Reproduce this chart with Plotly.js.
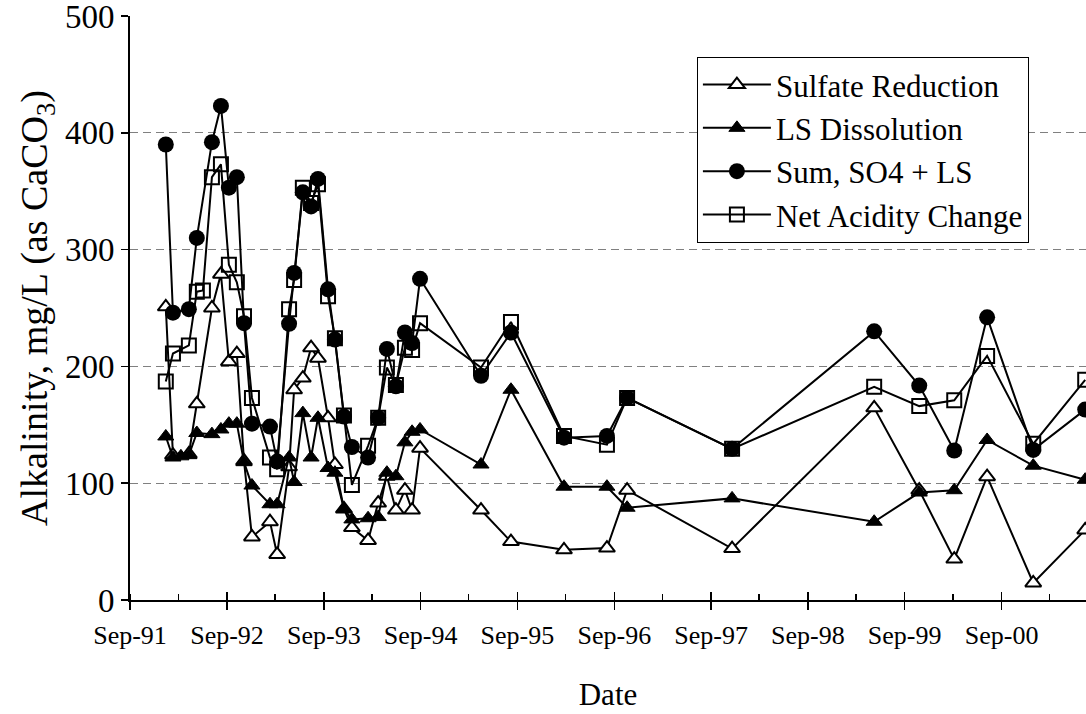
<!DOCTYPE html>
<html>
<head>
<meta charset="utf-8">
<script src="https://cdn.plot.ly/plotly-3.0.1.min.js"></script>
<style>html,body{margin:0;padding:0;background:#fff}#chart{width:1086px;height:714px}</style>
</head>
<body>
<div id="chart"></div>
<script>
// Sampling dates shared by Sulfate Reduction and Sum series
const sampleDates = ['1992-01-14','1992-02-10','1992-04-10','1992-05-10','1992-07-06','1992-08-09','1992-09-08','1992-10-08','1992-11-04','1992-12-04',
  '1993-02-10','1993-03-09','1993-04-23','1993-05-12','1993-06-14','1993-07-15','1993-08-10','1993-09-17','1993-10-13','1993-11-16',
  '1993-12-16','1994-02-15','1994-03-25','1994-04-27','1994-05-31','1994-07-04','1994-07-31','1994-08-30','1995-04-17','1995-08-08',
  '1996-02-24','1996-08-04','1996-10-19','1997-11-19','1999-05-09','1999-10-26','2000-03-06','2000-07-08','2000-12-29','2001-07-13'];

const sulfateReduction = [251,124,125,168,250,279,204,211,119,54,
  67,39,114,180,190,216,207,156,116,78,
  62,51,83,106,77,94,77,130,77,50,
  43,44.5,94,44,164.5,94,35,105.6,14.6,60];

const sumSO4LS = [390,246,249,310,392,423,353,362,237,151,
  148.5,118.5,236.5,280,349,337,360.5,266,223,157,
  131,122,156,215,183,229,220,275,192,229,
  139,140.5,173,129.4,230,183.6,128,242,128.5,163];

const lsDates = ['1992-01-14','1992-02-10','1992-03-11','1992-04-10','1992-05-10','1992-07-06','1992-08-09','1992-09-08','1992-10-08','1992-11-04','1992-12-04',
  '1993-02-10','1993-03-09','1993-04-23','1993-05-12','1993-06-14','1993-07-15','1993-08-10','1993-09-17','1993-10-13','1993-11-16',
  '1993-12-16','1994-02-15','1994-03-25','1994-04-27','1994-05-31','1994-07-04','1994-07-31','1994-08-30','1995-04-17','1995-08-08',
  '1996-02-24','1996-08-04','1996-10-19','1997-11-19','1999-05-09','1999-10-26','2000-03-06','2000-07-08','2000-12-29','2001-07-13'];
const lsDissolution = [140,122,123,124,143,142,146,151,151,118,98,
  82,82,122,101,160,122,156,113,109,78,
  69,70,71,109,106,135,144,146,116,180,
  97,97,79,87,67,92,94,137,115,103];

const netDates = ['1992-01-14','1992-02-10','1992-04-10','1992-05-10','1992-06-02','1992-07-06','1992-08-09','1992-09-08','1992-10-08','1992-11-04','1992-12-04',
  '1993-02-10','1993-03-09','1993-04-23','1993-05-12','1993-06-14','1993-07-15','1993-08-10','1993-09-17','1993-10-13','1993-11-16',
  '1993-12-16','1994-02-15','1994-03-25','1994-04-27','1994-05-31','1994-07-04','1994-07-31','1994-08-30','1995-04-17','1995-08-08',
  '1996-02-24','1996-08-04','1996-10-19','1997-11-19','1999-05-09','1999-10-26','2000-03-06','2000-07-08','2000-12-29','2001-07-13'];
const netAcidity = [187,211,218,264,265,362,373,287,272,243,173,
  122,112,249,274,353,340,356,260,224,158,
  98.5,132,156,199,184,216,214,237,199,238,
  140.5,133,173,129.4,182.5,166,171,209,133.7,188.5];

const seriesNames = ['Sulfate Reduction','LS Dissolution','Sum, SO4 + LS','Net Acidity Change'];
const xRange = ['1991-09-01','2001-07-16'];
const yTicks = [0,100,200,300,400,500];

const FONT = '"Liberation Serif", "Times New Roman", Times, serif';
const lineStyle = {color:'black', width:2};

const traces = [
  {x: sampleDates, y: sulfateReduction, name: seriesNames[0], type:'scatter', mode:'lines+markers',
   line: lineStyle, marker:{symbol:'triangle-up', size:14, color:'white', line:{color:'black', width:2}}},
  {x: lsDates, y: lsDissolution, name: seriesNames[1], type:'scatter', mode:'lines+markers',
   line: lineStyle, marker:{symbol:'triangle-up', size:14, color:'black', line:{color:'black', width:1}}},
  {x: sampleDates, y: sumSO4LS, name: seriesNames[2], type:'scatter', mode:'lines+markers',
   line: lineStyle, marker:{symbol:'circle', size:16, color:'black'}},
  {x: netDates, y: netAcidity, name: seriesNames[3], type:'scatter', mode:'lines+markers',
   line: lineStyle, marker:{symbol:'square-open', size:14, color:'black', line:{color:'black', width:2}}},
  // invisible helper so the overlay tick axis is drawn
  {x: [sampleDates[0]], y: [sumSO4LS[0]], xaxis:'x2', type:'scatter', mode:'markers',
   marker:{opacity:0}, showlegend:false, hoverinfo:'skip'}
];

const layout = {
  width:1086, height:714,
  margin:{l:130, r:0, t:16, b:114},
  paper_bgcolor:'white', plot_bgcolor:'white',
  font:{family:FONT, color:'black', size:26},
  showlegend:true,
  legend:{x:0.593, y:0.93, xanchor:'left', yanchor:'top', bgcolor:'white',
          bordercolor:'black', borderwidth:1, font:{family:FONT, size:31, color:'black'},
          itemwidth:68, tracegroupgap:0},
  xaxis:{type:'date', range:xRange, tick0:'1991-09-01', dtick:'M12', tickformat:'%b-%y',
         ticks:'outside', ticklen:8, tickwidth:1.5, tickcolor:'black',
         showline:true, linecolor:'black', linewidth:2, showgrid:false, zeroline:false,
         ticklabelstandoff:3, tickfont:{family:FONT, size:26, color:'black'},
         minor:{tick0:'1991-09-01', dtick:'M6', ticks:'inside', ticklen:6, tickwidth:1.5, tickcolor:'black', showgrid:false},
         title:{text:'Date', font:{family:FONT, size:31, color:'black'}, standoff:34}},
  xaxis2:{type:'date', overlaying:'x', anchor:'y', side:'bottom', range:xRange, tick0:'1991-09-01', dtick:'M12',
          ticks:'inside', ticklen:8, tickwidth:1.5, tickcolor:'black', showticklabels:false,
          showline:false, showgrid:false, zeroline:false},
  yaxis:{range:[0,500], tickmode:'array', tickvals:yTicks, ticktext:yTicks.map(String),
         ticks:'outside', ticklen:7, tickwidth:1.5, tickcolor:'black', ticklabeloverflow:'allow',
         showline:true, linecolor:'black', linewidth:2, zeroline:false,
         showgrid:true, gridcolor:'#808080', gridwidth:1, griddash:'8px,5px',
         tickfont:{family:FONT, size:33, color:'black'},
         title:{text:'Alkalinity, mg/L (as CaCO<sub>3</sub>)', font:{family:FONT, size:38, color:'black'}, standoff:6}}
};

Plotly.newPlot('chart', traces, layout, {displayModeBar:false, staticPlot:true});
</script>
</body>
</html>
